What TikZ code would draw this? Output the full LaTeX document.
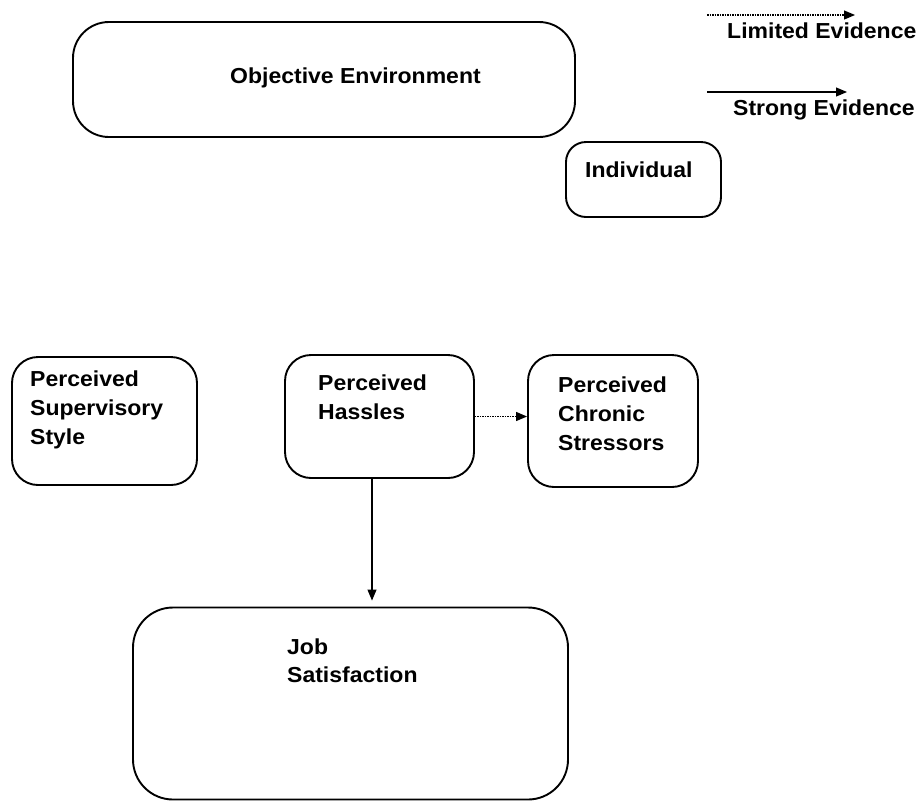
\documentclass[tikz,border=0pt]{standalone}
\usepackage{fontspec}
\setmainfont{Liberation Sans}[FakeStretch=1.06]
\usetikzlibrary{arrows.meta}
\begin{document}
\begin{tikzpicture}[x=1pt,y=-1pt,
  box/.style={draw=black, line width=1.9pt, rectangle, rounded corners=#1, inner sep=0pt},
  box/.default=26pt,
  lbl/.style={inner sep=0pt, align=left, font=\fontsize{21.7}{29}\selectfont\bfseries},
  strong/.style={draw=black, line width=1.1pt, -{Triangle[length=11pt,width=9pt]}},
  limited/.style={draw=black, line width=1.2pt, dash pattern=on 1.5pt off 1pt, -{Triangle[length=11pt,width=9pt]}}
]
\useasboundingbox (0,0) rectangle (923,801);

% legend
\coordinate (lim0) at (707,15);
\coordinate (lim1) at (855,15);
\coordinate (str0) at (707,92);
\coordinate (str1) at (847,92);
\draw[limited] (lim0) -- (lim1);
\draw[strong] (str0) -- (str1);
\node[lbl, anchor=base west] (limtext) at (727,38) {Limited Evidence};
\node[lbl, anchor=base west] (strtext) at (733,115) {Strong Evidence};

% boxes
\node[box=36pt, minimum width=502pt, minimum height=115pt] (objenv) at (324,79.5) {};
\node[lbl, anchor=base west] (objenvtext) at (230,83) {Objective Environment};

\node[box=20pt, minimum width=155pt, minimum height=75pt] (indiv) at (643.5,179.5) {};
\node[lbl, anchor=base west] (indivtext) at (585,177) {Individual};

\node[box, minimum width=185pt, minimum height=128pt] (superv) at (104.5,421) {};
\node[lbl, anchor=north west] (supervtext) at (30,371) {Perceived\\Supervisory\\Style};

\node[box, minimum width=189pt, minimum height=123pt] (hassles) at (379.5,416.5) {};
\node[lbl, anchor=north west] (hasslestext) at (318,375) {Perceived\\Hassles};

\node[box, minimum width=170pt, minimum height=132pt] (chronic) at (613,421) {};
\node[lbl, anchor=north west] (chronictext) at (558,377) {Perceived\\Chronic\\Stressors};

\node[box=40pt, minimum width=435pt, minimum height=192pt] (jobsat) at (350.5,703.5) {};
\node[lbl, anchor=north west, font=\fontsize{21.7}{28}\selectfont\bfseries] (jobsattext) at (287,639) {Job\\Satisfaction};

% connectors
\draw[limited] (hassles.east) -- (hassles.east -| chronic.west);
\draw[strong, shorten >=6pt] ([xshift=-7.5pt]hassles.south) -- ([xshift=-7.5pt]hassles.south |- jobsat.north);
\end{tikzpicture}
\end{document}
